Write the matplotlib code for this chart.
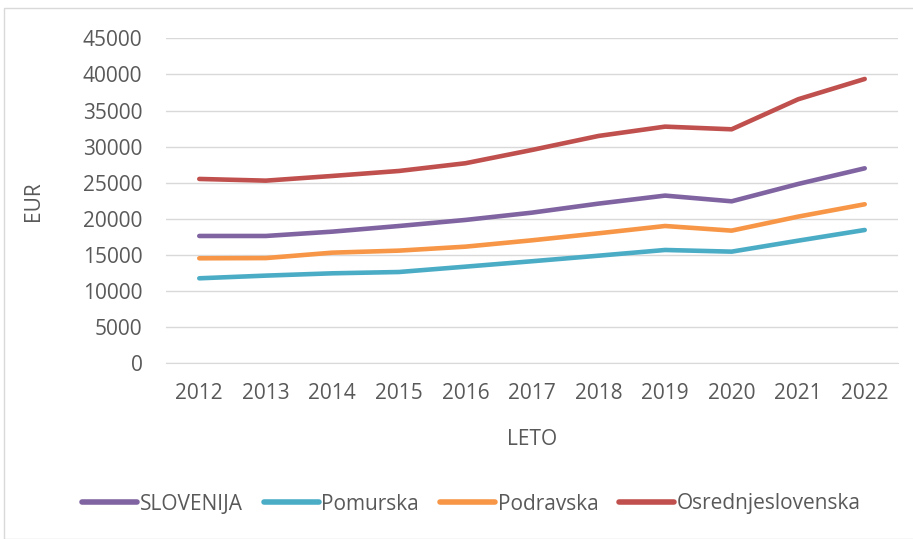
import matplotlib
matplotlib.use("Agg")
import matplotlib.pyplot as plt
from matplotlib.patches import Rectangle

years = ["2012", "2013", "2014", "2015", "2016", "2017", "2018", "2019", "2020", "2021", "2022"]
slovenija = [17630, 17630, 18230, 19010, 19850, 20860, 22110, 23220, 22430, 24830, 27000]
pomurska = [11770, 12140, 12460, 12640, 13380, 14130, 14900, 15690, 15460, 16980, 18460]
podravska = [14540, 14570, 15320, 15600, 16150, 17030, 18000, 19010, 18370, 20310, 22020]
osrednjeslovenska = [25525, 25290, 25940, 26630, 27700, 29540, 31480, 32770, 32400, 36560, 39370]

series = [
    ("SLOVENIJA", slovenija, "#8064A2"),
    ("Pomurska", pomurska, "#4BACC6"),
    ("Podravska", podravska, "#F79646"),
    ("Osrednjeslovenska", osrednjeslovenska, "#C0504D"),
]

plt.rcParams['font.family'] = ['Open Sans', 'DejaVu Sans']

W, H = 913, 539
fig = plt.figure(figsize=(W / 100, H / 100), dpi=100)
ax = fig.add_axes([166 / W, 1 - 363.3 / H, (898 - 166) / W, (363.3 - 38.3) / H])

x = list(range(len(years)))
for name, vals, col in series:
    ax.plot(x, vals, color=col, lw=3.3, label=name, solid_capstyle='round', solid_joinstyle='round')

ax.set_xlim(-0.5, len(years) - 0.5)
ax.set_ylim(0, 45000)
ax.set_yticks(range(0, 45001, 5000))
ax.set_xticks(x)
ax.set_xticklabels(years)
ax.grid(axis='y', color='#D9D9D9', lw=1)
ax.set_axisbelow(True)
for s in ['top', 'right', 'left']:
    ax.spines[s].set_visible(False)
ax.spines['bottom'].set_color('#D9D9D9')
ax.tick_params(axis='both', length=0, labelsize=15, colors='#595959')
ax.tick_params(axis='x', pad=14)
ax.tick_params(axis='y', pad=17)

ax.set_xlabel("LETO", fontsize=15, color='#595959', labelpad=18)
ax.set_ylabel("EUR", fontsize=15, color='#595959', labelpad=28)

leg = fig.legend(loc='center', bbox_to_anchor=(471.5 / W, 1 - 504 / H), ncol=4, frameon=False,
                 fontsize=15, handlelength=2.65, handletextpad=0.12, columnspacing=1.0,
                 labelcolor='#595959')
for h in leg.legend_handles:
    h.set_linewidth(4)

fig.patches.append(Rectangle((4 / W, 0), 1, 1 - 8 / H, transform=fig.transFigure,
                             fill=False, edgecolor='#D9D9D9', lw=1))

fig.savefig("out.png", dpi=100)
